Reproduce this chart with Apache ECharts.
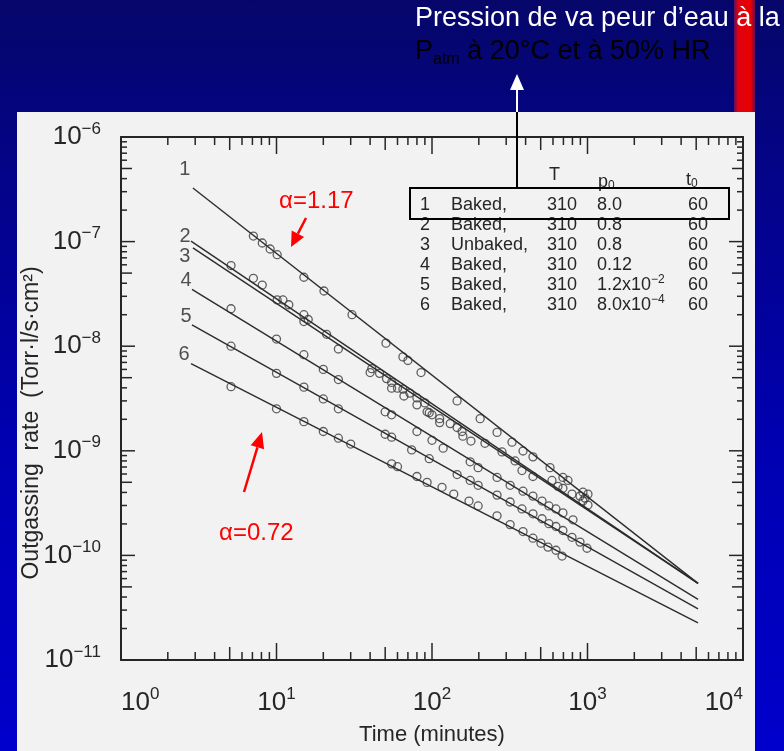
<!DOCTYPE html>
<html>
<head>
<meta charset="utf-8">
<script src="https://cdn.jsdelivr.net/npm/echarts@6/dist/echarts.min.js"></script>
<style>
  html, body { margin: 0; padding: 0; }
  body {
    width: 784px; height: 751px; overflow: hidden;
    background: linear-gradient(#06066a 0%, #040482 18%, #0000b2 60%, #0000cc 100%);
  }
  #chart { width: 784px; height: 751px; }
</style>
</head>
<body>
<div id="chart"></div>
<script>
// fitted lines (time in minutes, rate in Torr.l/s.cm2)
const fit1 = [[2.9, 3.25e-7], [5140, 5.4e-11]];
const fit2 = [[2.82, 1.01e-7], [5140, 5.4e-11]];
const fit3 = [[2.9, 8.7e-8], [5140, 5.4e-11]];
const fit4 = [[2.86, 3.5e-8], [5140, 3.8e-11]];
const fit5 = [[2.86, 1.6e-8], [5140, 3.08e-11]];
const fit6 = [[2.82, 6.8e-9], [5140, 2.27e-11]];

// measured points
const circles1 = [[7.1, 1.13e-7], [8.1, 9.7e-8], [9.1, 8.5e-8], [10.1, 7.5e-8], [15, 4.56e-8], [20.2, 3.37e-8],
  [30.6, 2.0e-8], [50.6, 1.07e-8], [65, 7.9e-9], [70, 7.3e-9], [85, 5.6e-9], [145, 3.0e-9], [204, 2.03e-9],
  [262, 1.5e-9], [327, 1.21e-9], [385, 9.96e-10], [446, 8.75e-10], [574, 6.9e-10], [695, 5.56e-10],
  [749, 5.21e-10], [935, 4.02e-10], [1007, 3.85e-10], [964, 3.53e-10]];
const circles2 = [[5.1, 5.9e-8], [7.1, 4.46e-8], [8.1, 3.84e-8], [11, 2.77e-8], [12, 2.49e-8], [16, 1.8e-8],
  [21, 1.3e-8], [41, 6.1e-9], [46, 5.5e-9], [55, 4.5e-9], [60, 3.97e-9], [72, 3.56e-9], [90, 2.87e-9],
  [100, 2.21e-9], [112, 2.03e-9], [131, 1.82e-9], [156, 1.53e-9], [219, 1.18e-9], [282, 9.75e-10],
  [342, 8.0e-10], [446, 5.68e-10], [591, 5.21e-10], [695, 4.38e-10], [895, 3.69e-10]];
const circles3 = [[10.1, 2.77e-8], [15, 2.0e-8], [15, 1.72e-8], [25, 9.4e-9], [40, 5.6e-9], [51, 4.9e-9],
  [55, 3.97e-9], [65, 3.88e-9], [66, 3.34e-9], [80, 3.2e-9], [80, 2.75e-9], [93, 2.36e-9], [96, 2.31e-9],
  [112, 1.86e-9], [145, 1.67e-9], [158, 1.38e-9], [178, 1.24e-9], [379, 6.47e-10], [646, 4.57e-10],
  [795, 3.85e-10], [935, 3.31e-10], [1007, 3.03e-10]];
const circles4 = [[5.1, 2.28e-8], [10, 1.17e-8], [15, 8.3e-9], [20, 6.0e-9], [25, 4.8e-9], [50, 2.36e-9],
  [55, 2.21e-9], [80, 1.53e-9], [100, 1.26e-9], [118, 1.06e-9], [176, 7.85e-10], [198, 6.9e-10],
  [262, 5.56e-10], [318, 4.68e-10], [385, 4.11e-10], [446, 3.69e-10], [510, 3.31e-10], [565, 2.97e-10],
  [627, 2.78e-10], [695, 2.55e-10], [807, 2.19e-10]];
const circles5 = [[5.1, 1.0e-8], [10, 5.5e-9], [15, 4.06e-9], [20, 3.13e-9], [25, 2.52e-9], [50, 1.44e-9],
  [55, 1.35e-9], [74, 1.02e-9], [96, 8.4e-10], [145, 5.93e-10], [176, 5.21e-10], [198, 4.68e-10],
  [262, 3.77e-10], [318, 3.24e-10], [379, 2.78e-10], [446, 2.5e-10], [510, 2.24e-10], [565, 2.01e-10],
  [627, 1.89e-10], [695, 1.73e-10], [795, 1.49e-10], [895, 1.34e-10], [993, 1.17e-10]];
const circles6 = [[5.1, 4.1e-9], [10, 2.52e-9], [15, 1.9e-9], [20, 1.53e-9], [25, 1.32e-9], [30, 1.16e-9],
  [55, 7.5e-10], [60, 7.05e-10], [80, 5.68e-10], [93, 4.99e-10], [116, 4.48e-10], [138, 3.85e-10],
  [173, 3.31e-10], [198, 2.97e-10], [262, 2.39e-10], [318, 1.97e-10], [385, 1.69e-10], [446, 1.46e-10],
  [502, 1.31e-10], [557, 1.2e-10], [627, 1.12e-10], [686, 9.86e-11]];

// legend table
const RUN_IDS = ['1', '2', '3', '4', '5', '6'];
const RUN_STATE = ['Baked,', 'Baked,', 'Unbaked,', 'Baked,', 'Baked,', 'Baked,'];
const RUN_T = [310, 310, 310, 310, 310, 310];
const RUN_P0 = ['8.0', '0.8', '0.8', '0.12', '1.2x10^−2', '8.0x10^−4'];
const RUN_T0 = [60, 60, 60, 60, 60, 60];

// axes
const X_MIN = 1, X_MAX = 1e4;
const Y_MIN = 1e-11, Y_MAX = 1e-6;
const X_DECADES = [1, 10, 100, 1000];
const Y_DECADES = [1e-11, 1e-10, 1e-9, 1e-8, 1e-7];
const TICK_STEPS = [1, 2, 3, 4, 5, 6, 7, 8, 9];

const fits = [fit1, fit2, fit3, fit4, fit5, fit6];
const circles = [circles1, circles2, circles3, circles4, circles5, circles6];

const plotFont = "'Liberation Sans Narrow', 'Liberation Sans', Arial, sans-serif";
const slideFont = "'Liberation Sans', Arial, sans-serif";
const ink = '#262626';

const chart = echarts.init(document.getElementById('chart'));

const powLabel = v => {
  const e = Math.round(Math.log10(v));
  return '{b|10}{e|' + String(e).replace('-', '−') + '}';
};
const powRich = {
  b: {fontSize: 26, fontFamily: plotFont, color: ink},
  e: {fontSize: 17, fontFamily: plotFont, color: ink, padding: [0, 0, 16, 0]}
};

// log ticks (1..9 in each decade) on all four sides of the frame
const xTickData = [], yTickData = [];
X_DECADES.forEach(d => TICK_STEPS.forEach(m => xTickData.push([m * d, Y_MIN, m])));
xTickData.push([X_MAX, Y_MIN, 1]);
Y_DECADES.forEach(d => TICK_STEPS.forEach(m => yTickData.push([X_MIN, m * d, m])));
yTickData.push([X_MIN, Y_MAX, 1]);

const tickStyle = {stroke: ink, lineWidth: 1.5};
const xTicks = (params, api) => {
  const cs = params.coordSys;
  const m = api.value(2);
  const x = api.coord([api.value(0), Y_MIN])[0];
  const len = m === 1 ? 17 : (m === 5 ? 13 : 8);
  return {type: 'group', children: [
    {type: 'line', shape: {x1: x, y1: cs.y + cs.height, x2: x, y2: cs.y + cs.height - len}, style: tickStyle},
    {type: 'line', shape: {x1: x, y1: cs.y, x2: x, y2: cs.y + len}, style: tickStyle}
  ]};
};
const yTicks = (params, api) => {
  const cs = params.coordSys;
  const m = api.value(2);
  const y = api.coord([X_MIN, api.value(1)])[1];
  const len = m === 1 ? 14 : (m === 5 ? 11 : 6);
  return {type: 'group', children: [
    {type: 'line', shape: {x1: cs.x, y1: y, x2: cs.x + len, y2: y}, style: tickStyle},
    {type: 'line', shape: {x1: cs.x + cs.width, y1: y, x2: cs.x + cs.width - len, y2: y}, style: tickStyle}
  ]};
};

const series = [];
fits.forEach(f => {
  series.push({
    type: 'line', data: f, symbol: 'none', silent: true,
    lineStyle: {color: '#2c2c2c', width: 1.4}
  });
});
circles.forEach(c => {
  series.push({
    type: 'scatter', data: c, symbol: 'circle', symbolSize: 8, silent: true,
    itemStyle: {color: 'rgba(0,0,0,0)', borderColor: '#3a3a3a', borderWidth: 1.3}
  });
});

// curve numbers next to the start of each line
const tagOffsets = [[-8, -19], [-6, -5], [-8, 9], [-6, -9], [-6, -8], [-7, -9]];
series.push({
  type: 'scatter', symbolSize: 1, silent: true,
  itemStyle: {color: 'rgba(0,0,0,0)'},
  data: fits.map((f, i) => ({value: f[0], label: {offset: tagOffsets[i]}})),
  label: {
    show: true, position: 'inside', fontSize: 20, fontFamily: plotFont, color: ink,
    formatter: p => RUN_IDS[p.dataIndex]
  }
});
series.push({type: 'custom', data: xTickData, encode: {x: 0, y: 1}, renderItem: xTicks, silent: true, clip: false});
series.push({type: 'custom', data: yTickData, encode: {x: 0, y: 1}, renderItem: yTicks, silent: true, clip: false});

// table rows
const rowY = [205, 225, 245, 265, 285, 305];
const tableText = (x, y, text) => ({
  type: 'text', x: x, y: y, z: 5,
  style: {
    text: text, fill: ink, font: '18px ' + plotFont, verticalAlign: 'middle',
    rich: {
      n: {fontSize: 18, fontFamily: plotFont, color: ink},
      s: {fontSize: 12, fontFamily: plotFont, color: ink, padding: [0, 0, 10, 0]},
      d: {fontSize: 12, fontFamily: plotFont, color: ink, padding: [8, 0, 0, 0]}
    }
  }
});
const tableItems = [
  tableText(549, 175, 'T'),
  tableText(598, 182, '{n|p}{d|0}'),
  tableText(686, 180, '{n|t}{d|0}')
];
RUN_IDS.forEach((id, i) => {
  const p0 = RUN_P0[i].split('^');
  const p0Text = p0.length > 1 ? '{n|' + p0[0] + '}{s|' + p0[1] + '}' : '{n|' + p0[0] + '}';
  tableItems.push(tableText(420, rowY[i], id));
  tableItems.push(tableText(451, rowY[i], RUN_STATE[i]));
  tableItems.push(tableText(547, rowY[i], String(RUN_T[i])));
  tableItems.push(tableText(597, rowY[i], p0Text));
  tableItems.push(tableText(688, rowY[i], String(RUN_T0[i])));
});

const arrow = (x1, y1, x2, y2, color, width, head, half) => {
  const dx = x2 - x1, dy = y2 - y1, l = Math.sqrt(dx * dx + dy * dy);
  const ux = dx / l, uy = dy / l;
  const bx = x2 - ux * head, by = y2 - uy * head;
  return [
    {type: 'line', z: 6, shape: {x1: x1, y1: y1, x2: bx, y2: by}, style: {stroke: color, lineWidth: width}},
    {type: 'polygon', z: 6, shape: {points: [[x2, y2], [bx - uy * half, by + ux * half], [bx + uy * half, by - ux * half]]},
      style: {fill: color}}
  ];
};

const graphics = [
  {type: 'rect', z: -10, shape: {x: 17, y: 112, width: 738, height: 639}, style: {fill: '#f2f2f2'}},
  {type: 'rect', z: -9, shape: {x: 734, y: 0, width: 21, height: 112},
    style: {fill: new echarts.graphic.LinearGradient(0, 0, 1, 0, [
      {offset: 0, color: '#5a1060'}, {offset: 0.2, color: '#e00010'},
      {offset: 0.8, color: '#e80000'}, {offset: 1, color: '#6a0a50'}])}},
  {type: 'text', x: 415, y: 19, z: 6,
    style: {text: 'Pression de va peur d’eau à la', fill: '#fff', font: '27px ' + slideFont, verticalAlign: 'middle'}},
  {type: 'text', x: 415, y: 52, z: 6,
    style: {text: '{n|P}{s|atm}{n| à 20°C et à 50% HR}', verticalAlign: 'middle',
      rich: {
        n: {fontSize: 27, fontFamily: slideFont, color: '#fff'},
        s: {fontSize: 16, fontFamily: slideFont, color: '#fff', padding: [16, 0, 0, 0]}
      }}},
  ...arrow(517, 112, 517, 74, '#fff', 2, 16, 7),
  {type: 'line', z: 6, shape: {x1: 517, y1: 112, x2: 517, y2: 188}, style: {stroke: '#000', lineWidth: 2}},
  {type: 'rect', z: 6, shape: {x: 410, y: 188, width: 319, height: 31}, style: {fill: 'none', stroke: '#000', lineWidth: 2}},
  ...tableItems,
  {type: 'text', x: 279, y: 201, z: 6,
    style: {text: 'α=1.17', fill: '#ff0000', font: '24px ' + slideFont, verticalAlign: 'middle'}},
  ...arrow(306, 218, 291, 247, '#ff0000', 2.5, 15, 7),
  {type: 'text', x: 219, y: 533, z: 6,
    style: {text: 'α=0.72', fill: '#ff0000', font: '24px ' + slideFont, verticalAlign: 'middle'}},
  ...arrow(244, 492, 262, 432, '#ff0000', 2.5, 16, 7),
  {type: 'text', x: 32, y: 423, rotation: Math.PI / 2, z: 6,
    style: {text: 'Outgassing  rate  (Torr·l/s·cm²)', fill: ink, font: '23px ' + plotFont,
      align: 'center', verticalAlign: 'middle'}}
];

const axisLine = {show: true, lineStyle: {color: ink, width: 2}};
const logX = (pos, show) => ({
  type: 'log', logBase: 10, min: X_MIN, max: X_MAX, position: pos,
  axisLine: axisLine,
  axisTick: {show: false},
  minorTick: {show: false},
  splitLine: {show: false},
  axisLabel: {show: show, formatter: powLabel, rich: powRich, margin: 26,
    showMinLabel: true, showMaxLabel: true, alignMinLabel: 'left', alignMaxLabel: 'right'},
  name: show ? 'Time (minutes)' : '', nameLocation: 'middle', nameGap: 64,
  nameTextStyle: {fontSize: 22, fontFamily: plotFont, color: ink}
});
const logY = (pos, show) => ({
  type: 'log', logBase: 10, min: Y_MIN, max: Y_MAX, position: pos,
  axisLine: axisLine,
  axisTick: {show: false},
  minorTick: {show: false},
  splitLine: {show: false},
  axisLabel: {show: show, formatter: powLabel, rich: powRich, margin: 20, showMinLabel: true, showMaxLabel: true}
});

chart.setOption({
  animation: false,
  grid: {left: 121, right: 41, top: 137, bottom: 81},
  xAxis: [logX('bottom', true), logX('top', false)],
  yAxis: [logY('left', true), logY('right', false)],
  graphic: graphics,
  series: series
});
</script>
</body>
</html>
